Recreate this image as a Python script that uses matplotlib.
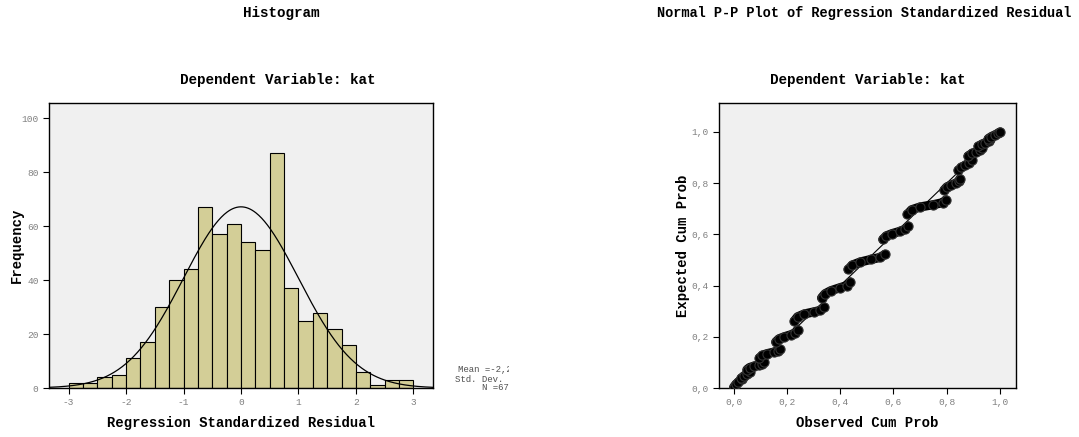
import numpy as np
import matplotlib
matplotlib.use("Agg")
import matplotlib.pyplot as plt
from matplotlib.transforms import Bbox, TransformedBbox

plt.rcParams['font.family'] = ['Liberation Mono', 'DejaVu Sans Mono']
plt.rcParams['axes.unicode_minus'] = False

# histogram of standardized residuals (bin width 0.25 from -3 to 3)
bin_start = -3.0
bin_width = 0.25
counts = [2, 2, 4, 5, 11, 17, 30, 40, 44, 67, 57, 61,
          54, 51, 87, 37, 25, 28, 22, 16, 6, 1, 3, 3]
res_mean = -2.22e-16
res_sd = 0.999

hist_xticks = [-3, -2, -1, 0, 1, 2, 3]
hist_yticks = [0, 20, 40, 60, 80, 100]

# P-P plot: observed vs expected cumulative probability, read as runs of points
pp_runs = [
    ([0.000, 0.008, 0.018, 0.030], [0.003, 0.014, 0.024, 0.034]),
    ([0.028, 0.038, 0.050, 0.062], [0.038, 0.047, 0.054, 0.064]),
    ([0.050, 0.060, 0.075, 0.095, 0.108, 0.113], [0.072, 0.080, 0.085, 0.090, 0.095, 0.102]),
    ([0.097, 0.108, 0.125, 0.150, 0.165, 0.173], [0.118, 0.128, 0.134, 0.140, 0.146, 0.152]),
    ([0.158, 0.170, 0.190, 0.215, 0.232, 0.240], [0.180, 0.192, 0.200, 0.208, 0.216, 0.228]),
    ([0.228, 0.240, 0.265, 0.300, 0.325, 0.340], [0.262, 0.278, 0.289, 0.297, 0.303, 0.315]),
    ([0.330, 0.343, 0.365, 0.400, 0.425, 0.437], [0.352, 0.368, 0.380, 0.392, 0.400, 0.414]),
    ([0.430, 0.445, 0.475, 0.515, 0.550, 0.568], [0.463, 0.480, 0.492, 0.502, 0.510, 0.522]),
    ([0.560, 0.573, 0.595, 0.625, 0.645, 0.655], [0.580, 0.594, 0.603, 0.612, 0.620, 0.632]),
    ([0.652, 0.668, 0.700, 0.750, 0.785, 0.797], [0.678, 0.696, 0.707, 0.716, 0.724, 0.735]),
    ([0.790, 0.800, 0.815, 0.835, 0.845, 0.850], [0.773, 0.785, 0.792, 0.800, 0.808, 0.818]),
    ([0.843, 0.855, 0.870, 0.885, 0.893], [0.850, 0.862, 0.870, 0.880, 0.892]),
    ([0.880, 0.895, 0.910, 0.925, 0.932], [0.906, 0.916, 0.922, 0.928, 0.936]),
    ([0.918, 0.932, 0.945, 0.958, 0.964], [0.944, 0.952, 0.958, 0.964, 0.972]),
    ([0.956, 0.968, 0.980, 0.992, 1.000], [0.974, 0.982, 0.988, 0.994, 1.000]),
]
pp_ticks = [0.0, 0.2, 0.4, 0.6, 0.8, 1.0]

W, H = 1079, 437
fig = plt.figure(figsize=(W / 100, H / 100), dpi=100)

bg = '#f0f0f0'
bar_color = '#d3ce97'
tick_gray = '#808080'


def comma(s):
    return s.replace('.', ',')


def style_axes(ax):
    ax.set_facecolor(bg)
    for s in ax.spines.values():
        s.set_color('black')
        s.set_linewidth(1.0)
    ax.tick_params(direction='out', length=4, width=0.8, color='black',
                   labelcolor=tick_gray, labelsize=6.8, top=False, right=False)


# --- histogram ---
ax1 = fig.add_axes([49 / W, 1 - 388 / H, 384 / W, 285 / H])
style_axes(ax1)
lefts = bin_start + bin_width * np.arange(len(counts))
ax1.bar(lefts, counts, width=bin_width, align='edge', color=bar_color,
        edgecolor='black', linewidth=0.8, zorder=2)
n_total = sum(counts)
xs = np.linspace(-3.34, 3.34, 400)
curve = n_total * bin_width * np.exp(-0.5 * ((xs - res_mean) / res_sd) ** 2) / (res_sd * np.sqrt(2 * np.pi))
ax1.plot(xs, curve, color='black', linewidth=0.9, zorder=3)
ax1.set_xlim(-3.34, 3.34)
ax1.set_ylim(0, 105.7)
ax1.set_xticks(hist_xticks)
ax1.set_yticks(hist_yticks)
ax1.set_xlabel('Regression Standardized Residual', fontsize=10, fontweight='bold', labelpad=6)
ax1.set_ylabel('Frequency', fontsize=10, fontweight='bold', labelpad=-2)

# --- P-P plot ---
ax2 = fig.add_axes([719 / W, 1 - 388 / H, 297 / W, 285 / H])
style_axes(ax2)
ax2.plot([0, 1], [0, 1], color='black', linewidth=0.8, zorder=2)
for ox, ey in pp_runs:
    ax2.plot(ox, ey, color='black', linewidth=6.6, solid_capstyle='round',
             solid_joinstyle='round', zorder=3)
    ax2.plot(ox, ey, 'o', markersize=6.6, markerfacecolor='black',
             markeredgecolor='#333333', markeredgewidth=0.8, zorder=4)
ax2.set_xlim(-0.055, 1.06)
ax2.set_ylim(0, 1.113)
ax2.set_xticks(pp_ticks)
ax2.set_yticks(pp_ticks)
ax2.set_xticklabels([comma(f'{t:.1f}') for t in pp_ticks])
ax2.set_yticklabels([comma(f'{t:.1f}') for t in pp_ticks])
ax2.set_xlabel('Observed Cum Prob', fontsize=10, fontweight='bold', labelpad=6)
ax2.set_ylabel('Expected Cum Prob', fontsize=10, fontweight='bold', labelpad=1)

# titles
fig.text(281 / W, 1 - 13 / H, 'Histogram', ha='center', va='center',
         fontsize=10.3, fontweight='bold')
fig.text(278 / W, 1 - 80 / H, 'Dependent Variable: kat', ha='center', va='center',
         fontsize=10.3, fontweight='bold')
fig.text(864 / W, 1 - 13 / H, 'Normal P-P Plot of Regression Standardized Residual',
         ha='center', va='center', fontsize=9.8, fontweight='bold')
fig.text(868 / W, 1 - 80 / H, 'Dependent Variable: kat', ha='center', va='center',
         fontsize=10.3, fontweight='bold')

# summary box, cut off at its right edge
clip = TransformedBbox(Bbox([[0, 0], [509 / W, 1]]), fig.transFigure)
stats_lines = ['Mean =' + comma(f'{res_mean:.2E}'),
               'Std. Dev. =' + comma(f'{res_sd:.3f}'),
               f'N ={n_total}']
for line, ypx in zip(stats_lines, [370, 379, 388]):
    t = fig.text(498 / W, 1 - ypx / H, line, ha='center', va='center',
                 fontsize=6.5, color='#505050')
    t.set_clip_box(clip)
    t.set_clip_on(True)

fig.savefig('out.png', dpi=100)
